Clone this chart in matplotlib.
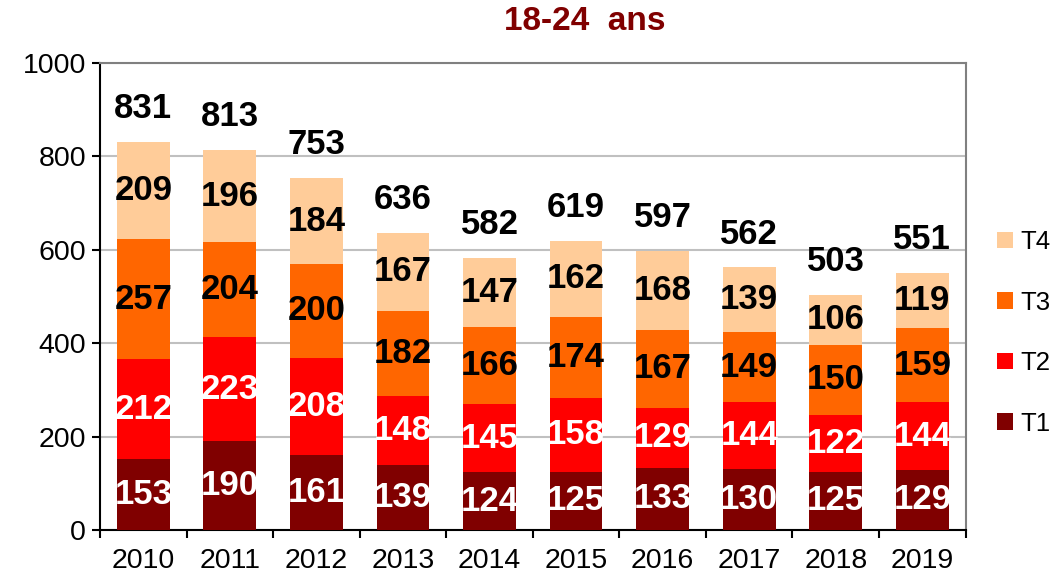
import matplotlib
matplotlib.use("Agg")
import matplotlib.pyplot as plt
import numpy as np

plt.rcParams['font.family'] = ['Liberation Sans', 'DejaVu Sans']

years = ['2010', '2011', '2012', '2013', '2014', '2015', '2016', '2017', '2018', '2019']
t1 = [153, 190, 161, 139, 124, 125, 133, 130, 125, 129]
t2 = [212, 223, 208, 148, 145, 158, 129, 144, 122, 144]
t3 = [257, 204, 200, 182, 166, 174, 167, 149, 150, 159]
t4 = [209, 196, 184, 167, 147, 162, 168, 139, 106, 119]
totals = [831, 813, 753, 636, 582, 619, 597, 562, 503, 551]

series = [('T1', t1, '#800000', 'white'),
          ('T2', t2, '#FF0000', 'white'),
          ('T3', t3, '#FF6600', 'black'),
          ('T4', t4, '#FFCC99', 'black')]

fig = plt.figure(figsize=(10.53, 5.77), dpi=100)
ax = fig.add_axes([0.095, 0.0815, 0.822, 0.8095])

x = np.arange(len(years))
bottom = np.zeros(len(years))
handles = []
for name, vals, col, tcol in series:
    vals = np.array(vals, dtype=float)
    b = ax.bar(x, vals, 0.61, bottom=bottom, color=col, label=name, zorder=3)
    handles.append(b)
    for xi, bi, v in zip(x, bottom, vals):
        ax.text(xi, bi + v / 2, str(int(v)), ha='center', va='center',
                color=tcol, fontsize=25, fontweight='bold', zorder=4)
    bottom += vals

for xi, top, tot in zip(x, bottom, totals):
    ax.annotate(str(tot), (xi, top), xytext=(0, 24), textcoords='offset points',
                ha='center', va='center', fontsize=25, fontweight='bold')

ax.set_xlim(-0.5, len(years) - 0.5)
ax.set_ylim(0, 1000)
ax.set_yticks([0, 200, 400, 600, 800, 1000])
ax.yaxis.grid(True, color='#C0C0C0', linewidth=1.5, zorder=0)
ax.set_xticks(x)
ax.set_xticklabels(years)
ax.set_xticks(np.arange(-0.5, len(years), 1), minor=True)
ax.tick_params(axis='x', which='major', length=0, labelsize=20.5, pad=13)
ax.tick_params(axis='x', which='minor', length=6, width=1.5, direction='out')
ax.tick_params(axis='y', length=6, width=1.5, direction='out', labelsize=20.5, pad=4)

ax.spines['left'].set_linewidth(1.5)
ax.spines['bottom'].set_linewidth(1.5)
ax.spines['top'].set_color('#808080')
ax.spines['right'].set_color('#808080')
ax.spines['top'].set_linewidth(1.5)
ax.spines['right'].set_linewidth(1.5)

fig.text(0.555, 0.962, '18-24  ans', color='#800000', fontsize=24,
         fontweight='bold', ha='center', va='center')

leg = fig.legend(handles[::-1], ['T4', 'T3', 'T2', 'T1'], loc='center left',
                 bbox_to_anchor=(0.947, 0.423), frameon=False, fontsize=18.5,
                 handlelength=0.6, handleheight=0.6, handletextpad=0.3,
                 labelspacing=1.42, borderpad=0, borderaxespad=0)

fig.savefig('out.png', dpi=100)
